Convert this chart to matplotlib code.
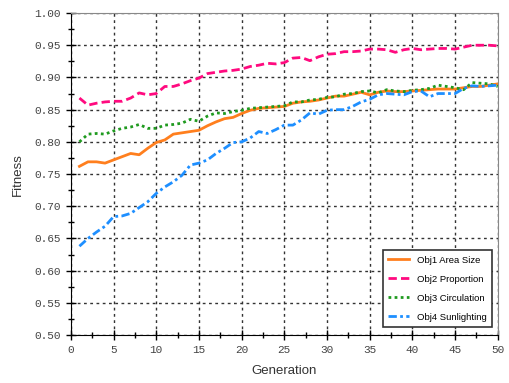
import matplotlib
matplotlib.use("Agg")
import matplotlib.pyplot as plt
from matplotlib.ticker import MultipleLocator

generation = list(range(1, 51))

# Obj1 Area Size
obj1 = [0.762, 0.769, 0.769, 0.767, 0.772, 0.777, 0.782, 0.780, 0.790, 0.799,
        0.803, 0.812, 0.814, 0.816, 0.818, 0.825, 0.831, 0.836, 0.838, 0.844,
        0.849, 0.852, 0.853, 0.854, 0.855, 0.860, 0.862, 0.863, 0.865, 0.868,
        0.871, 0.871, 0.874, 0.877, 0.873, 0.877, 0.879, 0.878, 0.878, 0.879,
        0.880, 0.881, 0.882, 0.882, 0.882, 0.884, 0.886, 0.886, 0.888, 0.890]
# Obj2 Proportion
obj2 = [0.868, 0.857, 0.860, 0.862, 0.863, 0.863, 0.868, 0.876, 0.873, 0.875,
        0.886, 0.886, 0.890, 0.895, 0.899, 0.906, 0.908, 0.910, 0.911, 0.913,
        0.917, 0.919, 0.922, 0.921, 0.923, 0.930, 0.931, 0.926, 0.932, 0.936,
        0.937, 0.940, 0.940, 0.941, 0.944, 0.944, 0.943, 0.939, 0.943, 0.945,
        0.943, 0.944, 0.945, 0.945, 0.944, 0.947, 0.950, 0.950, 0.950, 0.949]
# Obj3 Circulation
obj3 = [0.800, 0.812, 0.813, 0.812, 0.817, 0.821, 0.823, 0.827, 0.821, 0.821,
        0.826, 0.827, 0.829, 0.835, 0.832, 0.840, 0.845, 0.844, 0.847, 0.849,
        0.852, 0.853, 0.854, 0.855, 0.856, 0.862, 0.862, 0.865, 0.866, 0.869,
        0.870, 0.874, 0.875, 0.878, 0.879, 0.876, 0.881, 0.879, 0.878, 0.880,
        0.881, 0.883, 0.888, 0.886, 0.884, 0.881, 0.892, 0.891, 0.890, 0.886]
# Obj4 Sunlighting
obj4 = [0.638, 0.650, 0.660, 0.669, 0.684, 0.685, 0.689, 0.698, 0.707, 0.720,
        0.730, 0.738, 0.748, 0.764, 0.767, 0.772, 0.782, 0.790, 0.799, 0.800,
        0.806, 0.816, 0.813, 0.819, 0.826, 0.826, 0.834, 0.845, 0.843, 0.849,
        0.850, 0.850, 0.855, 0.862, 0.866, 0.873, 0.875, 0.874, 0.873, 0.878,
        0.879, 0.870, 0.875, 0.875, 0.875, 0.883, 0.887, 0.886, 0.887, 0.888]

labels = ["Obj1 Area Size", "Obj2 Proportion", "Obj3 Circulation", "Obj4 Sunlighting"]
colors = ["#ff7f1e", "#ff0a7f", "#1f9a1f", "#1e8fff"]
styles = ["-", (0, (3, 1.5)), (0, (1, 1.2)), (0, (3, 1.2, 1, 1.2))]


def main():
    fig = plt.figure(figsize=(5.1, 3.83), dpi=100)
    ax = fig.add_axes([0.139, 0.125, 0.837, 0.841])

    for y, lab, col, ls in zip([obj1, obj2, obj3, obj4], labels, colors, styles):
        ax.plot(generation, y, color=col, linestyle=ls, linewidth=2.0, label=lab)

    ax.set_xlim(0, 50)
    ax.set_ylim(0.5, 1.0)
    ax.xaxis.set_major_locator(MultipleLocator(5))
    ax.xaxis.set_minor_locator(MultipleLocator(2.5))
    ax.yaxis.set_major_locator(MultipleLocator(0.05))
    ax.yaxis.set_minor_locator(MultipleLocator(0.025))
    ax.yaxis.set_major_formatter(matplotlib.ticker.FormatStrFormatter("%.2f"))

    ax.grid(True, which="major", color="#333333", linestyle=(0, (2, 2.5)), linewidth=1.0)
    ax.tick_params(which="major", direction="inout", length=7, width=1, color="black",
                   labelsize=8, labelcolor="#444444", top=False, right=False)
    ax.tick_params(which="minor", direction="inout", length=4, width=1, color="black",
                   top=False, right=False)
    for lab in ax.get_xticklabels() + ax.get_yticklabels():
        lab.set_family("Liberation Mono")

    ax.spines["left"].set_color("black")
    ax.spines["bottom"].set_color("black")
    ax.spines["top"].set_color("#888888")
    ax.spines["right"].set_color("#888888")

    ax.set_xlabel("Generation", family="Liberation Sans", fontsize=9.5,
                  color="#333333", labelpad=7)
    ax.set_ylabel("Fitness", family="Liberation Sans", fontsize=9.5,
                  color="#333333", labelpad=8)

    leg = ax.legend(loc="lower right", fancybox=False, edgecolor="#333333",
                    prop={"family": "Liberation Sans", "size": 6.8},
                    handlelength=2.2, labelspacing=1.05, borderpad=0.6,
                    bbox_to_anchor=(0.998, 0.01), framealpha=1)
    leg.get_frame().set_linewidth(1.2)

    fig.savefig("out.png", dpi=100)


if __name__ == '__main__':
    main()
